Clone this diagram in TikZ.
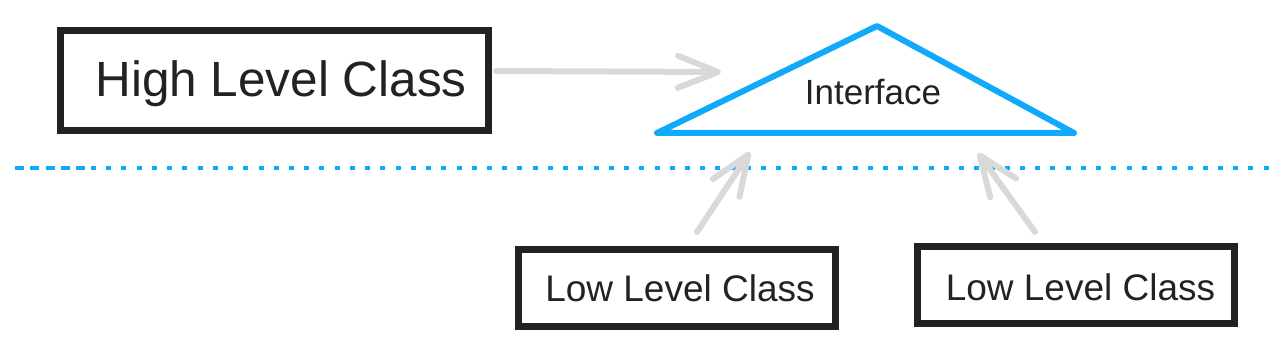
\documentclass[tikz,border=0pt]{standalone}
\usepackage{fontspec}
\setmainfont{Liberation Sans}
\usetikzlibrary{arrows.meta,calc}
\definecolor{ifblue}{RGB}{17,170,250}
\definecolor{argray}{RGB}{217,217,217}
\definecolor{ink}{RGB}{34,34,34}
\begin{document}
\begin{tikzpicture}[x=1pt,y=-1pt,
  classbox/.style={draw=ink, line width=7pt, text=ink, inner sep=0pt, text depth=0pt},
  lowbox/.style={classbox, minimum width=317pt, minimum height=77pt, font=\fontsize{37pt}{44pt}\selectfont},
  highbox/.style={classbox, minimum width=428pt, minimum height=100pt, font=\fontsize{49.5pt}{59pt}\selectfont},
  flow/.style={draw=argray, line width=6pt, line cap=round, line join=round,
    -{Straight Barb[length=40pt,width=32pt,round]}},
  separator/.style={draw=ifblue, line width=3.5pt},
  iface/.style={draw=ifblue, line width=6pt, line join=round, line cap=round}
]
\useasboundingbox (0,0) rectangle (1286,347);

% boxes
\node[highbox, text height=33pt] (high) at (274.5,80.5) {\hspace{13pt}High Level Class};
\node[lowbox, text height=28pt] (low1) at (677,288) {\hspace{6pt}Low Level Class};
\node[lowbox, text height=32pt] (low2) at (1076,285) {\hspace{9pt}Low Level Class};

% interface triangle
\coordinate (tA) at (877,26);
\coordinate (tB) at (657,133);
\coordinate (tC) at (1074,133);
\draw[iface] (tA) -- (tB) -- (tC) -- cycle;
\node[text=ink, inner sep=0pt, text height=26pt, text depth=0pt,
      font=\fontsize{35pt}{42pt}\selectfont] (interface) at (873,92) {Interface};

% separator
\coordinate (s1) at (15,168);
\coordinate (s2) at (87,168);
\coordinate (s3) at (91,168);
\coordinate (s4) at (1270,168);
\draw[separator, dash pattern=on 9pt off 6.3pt] (s1) -- (s2);
\draw[separator, dash pattern=on 5pt off 10.23pt] (s3) -- (s4);

% arrows
\coordinate (hiTail) at (496,71);
\coordinate (hiTip) at (721,72);
\coordinate (l1Tail) at (697,232);
\coordinate (l1Tip) at (750,152);
\coordinate (l2Tail) at (1035,232);
\coordinate (l2Tip) at (978,153);
\draw[flow] (hiTail) -- (hiTip);
\draw[flow] (l1Tail) -- (l1Tip);
\draw[flow] (l2Tail) -- (l2Tip);
\end{tikzpicture}
\end{document}
